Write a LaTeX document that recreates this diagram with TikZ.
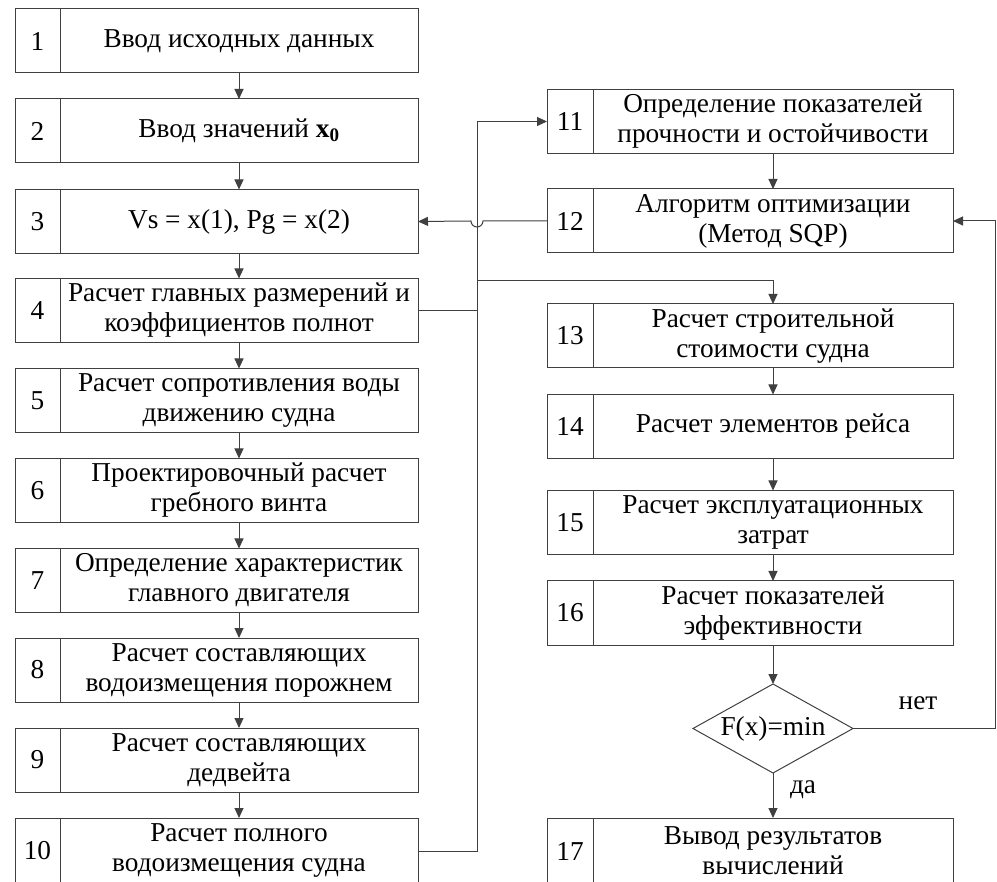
\documentclass[tikz,border=0pt]{standalone}
\usepackage{fontspec}
\setmainfont{Liberation Serif}
\usetikzlibrary{arrows.meta,positioning,shapes.geometric}

\begin{document}
\begin{tikzpicture}[x=1pt,y=-1pt,
		txt/.style={draw=black!75, line width=1pt, minimum width=358pt, minimum height=64pt, inner sep=0pt, outer sep=0pt, align=center, font=\fontsize{27.3}{30}\selectfont},
		num/.style={draw=black!75, line width=1pt, minimum width=45pt, minimum height=64pt, inner sep=0pt, outer sep=0pt, font=\fontsize{27.3}{30}\selectfont},
		dec/.style={diamond, draw=black!75, line width=1pt, shape aspect=1.8, minimum width=160pt, minimum height=89pt, inner sep=0pt, outer sep=0pt, font=\fontsize{27.3}{30}\selectfont},
		lbl/.style={font=\fontsize{27.3}{30}\selectfont, inner sep=0pt},
		arr/.style={draw=black!75, line width=1pt, -{Triangle[length=10pt,width=9pt]}},
		ln/.style={draw=black!75, line width=1pt}]
		\clip (0,0) rectangle (997,882);
		
		% left column
		\node[txt] (t1) at (239,41) {Ввод исходных данных};
		\node[num, left=0pt of t1] (n1) {1};
		\node[txt] (t2) at (239,131) {Ввод значений \textbf{x}\textsubscript{\textbf{0}}};
		\node[num, left=0pt of t2] (n2) {2};
		\node[txt] (t3) at (239,221.5) {Vs = x(1), Pg = x(2)};
		\node[num, left=0pt of t3] (n3) {3};
		\node[txt] (t4) at (239,310.5) {Расчет главных размерений и\\коэффициентов полнот};
		\node[num, left=0pt of t4] (n4) {4};
		\node[txt] (t5) at (239,400.5) {Расчет сопротивления воды\\движению судна};
		\node[num, left=0pt of t5] (n5) {5};
		\node[txt] (t6) at (239,490.5) {Проектировочный расчет\\гребного винта};
		\node[num, left=0pt of t6] (n6) {6};
		\node[txt] (t7) at (239,580.5) {Определение характеристик\\главного двигателя};
		\node[num, left=0pt of t7] (n7) {7};
		\node[txt] (t8) at (239,670) {Расчет составляющих\\водоизмещения порожнем};
		\node[num, left=0pt of t8] (n8) {8};
		\node[txt] (t9) at (239,760) {Расчет составляющих\\дедвейта};
		\node[num, left=0pt of t9] (n9) {9};
		\node[txt, minimum height=66pt] (t10) at (239,851) {Расчет полного\\водоизмещения судна};
		\node[num, minimum height=66pt, left=0pt of t10] (n10) {10};
		
		% right column
		\begin{scope}[txt/.append style={minimum width=360pt}, num/.append style={minimum width=46pt}]
		\node[txt] (t11) at (773,121.5) {Определение показателей\\прочности и остойчивости};
		\node[num, left=0pt of t11] (n11) {11};
		\node[txt] (t12) at (773,221) {Алгоритм оптимизации\\(Метод SQP)};
		\node[num, left=0pt of t12] (n12) {12};
		\node[txt] (t13) at (773,336) {Расчет строительной\\стоимости судна};
		\node[num, left=0pt of t13] (n13) {13};
		\node[txt] (t14) at (773,426.5) {Расчет элементов рейса};
		\node[num, left=0pt of t14] (n14) {14};
		\node[txt] (t15) at (773,522.5) {Расчет эксплуатационных\\затрат};
		\node[num, left=0pt of t15] (n15) {15};
		\node[txt] (t16) at (773,613) {Расчет показателей\\эффективности};
		\node[num, left=0pt of t16] (n16) {16};
		\node[dec] (d) at (773,728.5) {F(x)=min};
		\node[txt, minimum height=66pt] (t17) at (773,851) {Вывод результатов\\вычислений};
		\node[num, minimum height=66pt, left=0pt of t17] (n17) {17};
		\end{scope}
		
		\node[lbl] (no) at (918,703) {нет};
		\node[lbl] (yes) at (803,790) {да};
		
		% arrows
		\foreach \a/\b in {1/2,2/3,3/4,4/5,5/6,6/7,7/8,8/9,9/10,11/12,13/14,14/15,15/16}
			\draw[arr] (t\a.south) -- (t\b.north);
		\draw[arr] (t16.south) -- (d.north);
		\draw[arr] (d.south) -- (t17.north);
		
		\coordinate (bus) at (477,0);
		\coordinate (loop) at (995,0);
		\draw[ln] (t4.east) -- (t4.east -| bus);
		\draw[arr] (t10.east) -- (t10.east -| bus) |- (n11.west);
		\draw[arr] (bus |- 0,281) -| (t13.north);
		\draw[arr] (n12.west) -- ++(-64,0) arc[start angle=0, end angle=180, radius=6] -- (t3.east);
		\draw[arr] (d.east) -- (d.east -| loop) |- (t12.east);
	\end{tikzpicture}
\end{document}
